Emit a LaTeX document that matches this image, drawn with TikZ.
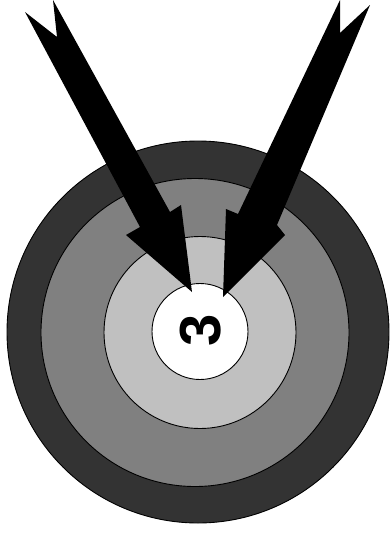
\documentclass[tikz,border=0pt]{standalone}
\usepackage{fontspec}
\setmainfont{Liberation Sans}
\definecolor{ringA}{RGB}{51,51,51}
\definecolor{ringB}{RGB}{128,128,128}
\definecolor{ringC}{RGB}{192,192,192}
\begin{document}
\begin{tikzpicture}[x=1pt,y=-1pt,
  ring/.style={draw=black,line width=0.9pt},
  bigarrow/.style={fill=black,draw=none},
  numlabel/.style={rotate=90,font=\bfseries\fontsize{58}{58}\selectfont,inner sep=0pt}]
\useasboundingbox (0,0) rectangle (390,542);
\fill[white] (0,0) rectangle (390,542);
\draw[ring,fill=ringA] (198,332) circle[radius=191];
\draw[ring,fill=ringB] (195,332.5) circle[radius=154];
\draw[ring,fill=ringC] (200,332.5) circle[radius=96];
\draw[ring,fill=white] (200,331.5) circle[radius=48];
\node[numlabel] (label) at (201,330) {3};
% left arrow
\fill[bigarrow] (25,12) -- (57,37) -- (53,0) -- (170,212) -- (181,205) -- (192,292) -- (126,235) -- (140,227) -- cycle;
% right arrow
\fill[bigarrow] (370,5) -- (340,33) -- (340,0) -- (238,214) -- (226,209) -- (223,297) -- (285,235) -- (277,225) -- cycle;
\end{tikzpicture}
\end{document}
